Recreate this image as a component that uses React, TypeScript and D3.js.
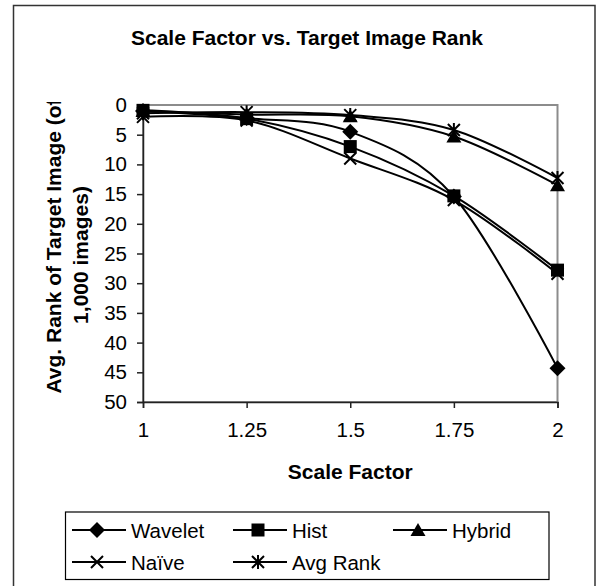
import React, { useEffect, useRef } from "react";
import * as d3 from "d3";

// chart data
const scaleFactors = ["1", "1.25", "1.5", "1.75", "2"];
const wavelet = [1.0, 2.2, 4.5, 15.4, 44.3];
const hist = [0.9, 2.3, 7.0, 15.3, 27.8];
const hybrid = [1.0, 1.6, 1.9, 5.3, 13.5];
const naive = [2.0, 2.6, 9.0, 16.0, 28.4];
const avgRank = [1.4, 1.2, 1.7, 4.2, 12.3];
const yTicks = [0, 5, 10, 15, 20, 25, 30, 35, 40, 45, 50];

const seriesList = [
  { name: "Wavelet", values: wavelet, marker: "diamond" },
  { name: "Hist", values: hist, marker: "square" },
  { name: "Hybrid", values: hybrid, marker: "triangle" },
  { name: "Naïve", values: naive, marker: "x" },
  { name: "Avg Rank", values: avgRank, marker: "asterisk" },
];

const W = 600;
const H = 586;
const FONT = "'Liberation Sans', Arial, sans-serif";

function drawMarker(g: any, kind: string, cx: number, cy: number) {
  const s = 6.5;
  if (kind === "diamond") {
    g.append("path")
      .attr("d", `M${cx},${cy - 8}L${cx + 8},${cy}L${cx},${cy + 8}L${cx - 8},${cy}Z`)
      .attr("fill", "#000");
  } else if (kind === "square") {
    g.append("rect")
      .attr("x", cx - s)
      .attr("y", cy - s)
      .attr("width", s * 2)
      .attr("height", s * 2)
      .attr("fill", "#000");
  } else if (kind === "triangle") {
    g.append("path")
      .attr("d", `M${cx},${cy - 7}L${cx + 7.5},${cy + 6}L${cx - 7.5},${cy + 6}Z`)
      .attr("fill", "#000");
  } else if (kind === "x") {
    g.append("path")
      .attr("d", `M${cx - 6},${cy - 6}L${cx + 6},${cy + 6}M${cx + 6},${cy - 6}L${cx - 6},${cy + 6}`)
      .attr("stroke", "#000")
      .attr("stroke-width", 2);
  } else if (kind === "asterisk") {
    g.append("path")
      .attr(
        "d",
        `M${cx - 6},${cy - 6}L${cx + 6},${cy + 6}M${cx + 6},${cy - 6}L${cx - 6},${cy + 6}M${cx},${cy - 7}L${cx},${cy + 7}`
      )
      .attr("stroke", "#000")
      .attr("stroke-width", 2);
  }
}

const App = () => {
  const ref = useRef<SVGSVGElement>(null);

  useEffect(() => {
    const svg = d3.select(ref.current);
    svg.selectAll("*").remove();

    const plot = { left: 143, right: 557.5, top: 105, bottom: 402 };

    const x = d3.scalePoint<string>().domain(scaleFactors).range([plot.left, plot.right]);
    const y = d3.scaleLinear().domain([0, 50]).range([plot.top, plot.bottom]);

    // outer chart border
    svg.append("rect")
      .attr("x", 13.5)
      .attr("y", 5.5)
      .attr("width", 581.5)
      .attr("height", 600)
      .attr("fill", "#fff")
      .attr("stroke", "#333")
      .attr("stroke-width", 1.5);

    // title
    svg.append("text")
      .attr("x", 307)
      .attr("y", 45)
      .attr("text-anchor", "middle")
      .style("font-family", FONT)
      .style("font-size", "21px")
      .style("font-weight", "bold")
      .text("Scale Factor vs. Target Image Rank");

    // plot area border (grey)
    svg.append("rect")
      .attr("x", plot.left)
      .attr("y", plot.top)
      .attr("width", plot.right - plot.left)
      .attr("height", plot.bottom - plot.top)
      .attr("fill", "none")
      .attr("stroke", "#8c8c8c")
      .attr("stroke-width", 2);

    // y axis
    const yAxis = svg.append("g")
      .attr("transform", `translate(${plot.left},0)`)
      .call(d3.axisLeft(y).tickValues(yTicks).tickSize(6).tickPadding(10).tickFormat(d3.format("d")));
    yAxis.select(".domain").attr("stroke", "#222").attr("stroke-width", 1.5);
    yAxis.selectAll(".tick line").attr("stroke", "#222").attr("stroke-width", 1.5);
    yAxis.selectAll("text")
      .style("font-family", FONT)
      .style("font-size", "20.5px")
      .attr("fill", "#000");

    // x axis
    const xAxis = svg.append("g")
      .attr("transform", `translate(0,${plot.bottom})`)
      .call(d3.axisBottom(x).tickSize(6).tickPadding(14));
    xAxis.select(".domain").attr("stroke", "#222").attr("stroke-width", 1.5);
    xAxis.selectAll(".tick line").attr("stroke", "#222").attr("stroke-width", 1.5);
    xAxis.selectAll("text")
      .style("font-family", FONT)
      .style("font-size", "20.5px")
      .attr("fill", "#000");

    // x axis title
    svg.append("text")
      .attr("x", (plot.left + plot.right) / 2)
      .attr("y", 479)
      .attr("text-anchor", "middle")
      .style("font-family", FONT)
      .style("font-size", "21px")
      .style("font-weight", "bold")
      .text("Scale Factor");

    // y axis title, clipped at the top like the original
    svg.append("clipPath")
      .attr("id", "ytitle-clip")
      .append("rect")
      .attr("x", 0)
      .attr("y", 102)
      .attr("width", 130)
      .attr("height", 400);
    const yt = svg.append("g").attr("clip-path", "url(#ytitle-clip)");
    const ytText = yt.append("text")
      .attr("transform", "rotate(-90)")
      .attr("text-anchor", "middle")
      .style("font-family", FONT)
      .style("font-size", "21px")
      .style("font-weight", "bold");
    ytText.append("tspan").attr("x", -246).attr("y", 61).text("Avg. Rank of Target Image (of");
    ytText.append("tspan").attr("x", -255).attr("y", 88).text("1,000 images)");

    // series lines, smoothed like the original
    const line = d3.line<number>()
      .x((_d, i) => x(scaleFactors[i]) as number)
      .y((d) => y(d))
      .curve(d3.curveCardinal.tension(0));

    const lines = svg.append("g");
    seriesList.forEach((s) => {
      lines.append("path")
        .attr("d", line(s.values))
        .attr("fill", "none")
        .attr("stroke", "#000")
        .attr("stroke-width", 2);
    });

    const marks = svg.append("g");
    seriesList.forEach((s) => {
      s.values.forEach((v, i) => {
        drawMarker(marks, s.marker, x(scaleFactors[i]) as number, y(v));
      });
    });

    // legend
    const lg = svg.append("g");
    lg.append("rect")
      .attr("x", 65.5)
      .attr("y", 512)
      .attr("width", 483.5)
      .attr("height", 67.5)
      .attr("fill", "#fff")
      .attr("stroke", "#000")
      .attr("stroke-width", 1.2);

    const cols = [72, 233, 393];
    const rows = [530, 562];
    seriesList.forEach((s, i) => {
      const cx = cols[i % 3];
      const cy = rows[Math.floor(i / 3)];
      lg.append("line")
        .attr("x1", cx)
        .attr("x2", cx + 54)
        .attr("y1", cy)
        .attr("y2", cy)
        .attr("stroke", "#000")
        .attr("stroke-width", 2);
      drawMarker(lg, s.marker, cx + 25, cy);
      lg.append("text")
        .attr("x", cx + 59)
        .attr("y", cy + 7.5)
        .style("font-family", FONT)
        .style("font-size", "20.5px")
        .text(s.name);
    });
  }, []);

  return (
    <svg
      ref={ref}
      width={W}
      height={H}
      style={{ position: "absolute", left: 0, top: 0, background: "#fff" }}
    ></svg>
  );
};

export default App;
